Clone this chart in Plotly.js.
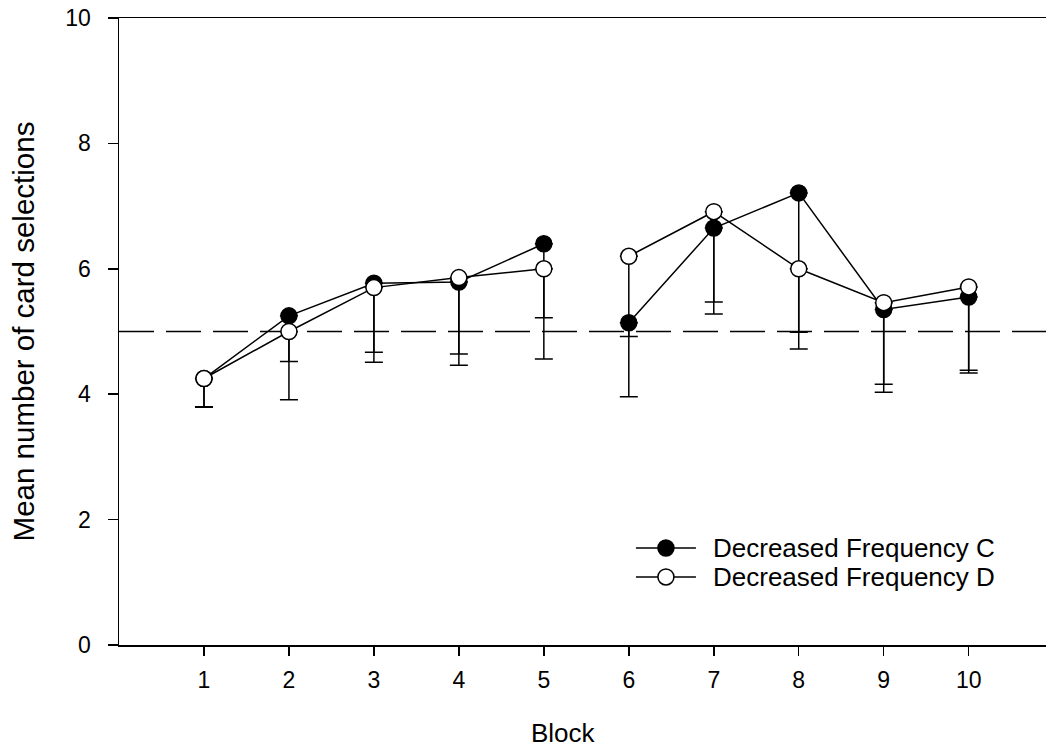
<!DOCTYPE html>
<html>
<head>
<meta charset="utf-8">
<script src="https://cdn.plot.ly/plotly-3.0.1.min.js"></script>
<style>html,body{margin:0;padding:0;background:#fff;}#chart{width:1046px;height:751px;}</style>
</head>
<body>
<div id="chart"></div>
<script>
// Data
const blocks = [1, 2, 3, 4, 5, 6, 7, 8, 9, 10];
const meanC = [4.25, 5.25, 5.77, 5.79, 6.40, 5.14, 6.65, 7.21, 5.35, 5.55];
const errC  = [0.45, 0.73, 1.26, 1.33, 1.18, 1.18, 1.37, 2.49, 1.32, 1.21];
const meanD = [4.25, 5.00, 5.70, 5.86, 6.00, 6.20, 6.91, 6.00, 5.46, 5.71];
const errD  = [0.46, 1.09, 1.03, 1.22, 1.44, 1.28, 1.44, 1.01, 1.30, 1.33];
const nameC = 'Decreased Frequency C';
const nameD = 'Decreased Frequency D';
const refLevel = 5;
const yTicks = [0, 2, 4, 6, 8, 10];

const FONT = 'Arial, "Liberation Sans", sans-serif';

function seg(arr, a, b) { return arr.slice(a, b); }
function zeros(n) { return new Array(n).fill(0); }

function makeTrace(name, mean, err, fill, a, b) {
  return {
    type: 'scatter', mode: 'lines+markers', name: name,
    legendgroup: name, showlegend: false,
    x: seg(blocks, a, b), y: seg(mean, a, b),
    line: {color: '#000', width: 1.5},
    marker: {symbol: 'circle', size: 16, color: fill, line: {color: '#000', width: 1.5}},
    error_y: {type: 'data', symmetric: false, array: zeros(b - a), arrayminus: seg(err, a, b),
              color: '#000', thickness: 1.5, width: 9}
  };
}

const traces = [
  makeTrace(nameC, meanC, errC, '#000', 0, 5),
  makeTrace(nameC, meanC, errC, '#000', 5, 10),
  makeTrace(nameD, meanD, errD, '#fff', 0, 5),
  makeTrace(nameD, meanD, errD, '#fff', 5, 10)
];

// Legend (drawn as decoration: sample line + marker + text)
const legendItems = [
  {name: nameC, fill: '#000', y: 0.1547},
  {name: nameD, fill: '#fff', y: 0.1085}
];
const legX = 0.590;   // centre of sample, paper
const legTextX = 0.6386;
const shapes = [{type: 'line', xref: 'paper', x0: 0, x1: 1, yref: 'y', y0: refLevel, y1: refLevel,
                 line: {color: '#000', width: 1.5, dash: '35px,12px'}, layer: 'below'}];
const annotations = [];
legendItems.forEach(it => {
  shapes.push({type: 'line', xref: 'paper', yref: 'paper', xsizemode: 'pixel', ysizemode: 'pixel',
               xanchor: legX, yanchor: it.y, x0: -30, x1: 30, y0: 0, y1: 0,
               line: {color: '#000', width: 1.5}});
  shapes.push({type: 'circle', xref: 'paper', yref: 'paper', xsizemode: 'pixel', ysizemode: 'pixel',
               xanchor: legX, yanchor: it.y, x0: -8, x1: 8, y0: -8, y1: 8,
               fillcolor: it.fill, line: {color: '#000', width: 1.5}});
  annotations.push({xref: 'paper', yref: 'paper', x: legTextX, y: it.y, xanchor: 'left', yanchor: 'middle',
                    text: it.name, showarrow: false, font: {family: FONT, size: 26, color: '#000'}});
});
annotations.push({xref: 'paper', yref: 'paper', x: 0.479, y: -0.1404, xanchor: 'center', yanchor: 'middle',
                  text: 'Block', showarrow: false, font: {family: FONT, size: 26, color: '#000'}});

const layout = {
  width: 1046, height: 751,
  margin: {l: 119, r: 0, t: 18, b: 106},
  paper_bgcolor: '#fff', plot_bgcolor: '#fff',
  font: {family: FONT, color: '#000', size: 23},
  showlegend: false,
  xaxis: {
    range: [0, 10.91], tickvals: blocks, ticktext: blocks.map(String),
    showgrid: false, zeroline: false, showline: true, linecolor: '#000', linewidth: 1.5,
    mirror: true, ticks: 'outside', ticklen: 9, tickwidth: 1.5, tickcolor: '#000',
    ticklabelstandoff: 5,
    tickfont: {family: FONT, size: 23, color: '#000'}
  },
  yaxis: {
    range: [0, 10], tickvals: yTicks, ticktext: yTicks.map(String),
    showgrid: false, zeroline: false, showline: true, linecolor: '#000', linewidth: 1.5,
    ticks: 'outside', ticklen: 10, tickwidth: 1.5, tickcolor: '#000',
    ticklabelstandoff: 12,
    tickfont: {family: FONT, size: 23, color: '#000'},
    title: {text: 'Mean number of card selections', font: {family: FONT, size: 29.5, color: '#000'}, standoff: 22}
  },
  shapes: shapes,
  annotations: annotations
};

Plotly.newPlot('chart', traces, layout, {displayModeBar: false, staticPlot: true});
</script>
</body>
</html>
